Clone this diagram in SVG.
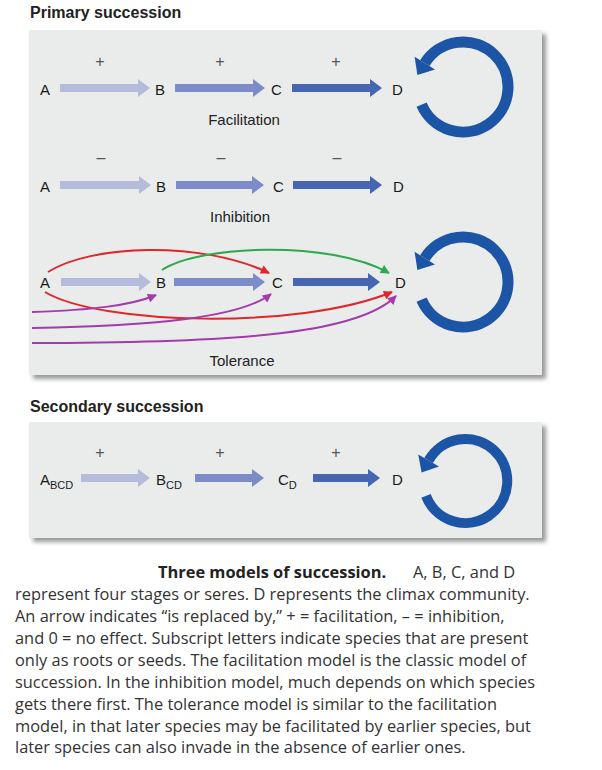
<svg xmlns="http://www.w3.org/2000/svg" width="602" height="770" viewBox="0 0 602 770">
<style>
.title{font-family:"Liberation Sans",Arial,sans-serif;font-weight:bold;font-size:16px;fill:#222}
.lbl{font-family:"Liberation Sans",Arial,sans-serif;font-size:15px;fill:#1a1a1a}
.sub{font-size:11px}
.sign{font-family:"Liberation Sans",Arial,sans-serif;font-size:16px;fill:#555;text-anchor:middle}
.model{font-family:"Liberation Sans",Arial,sans-serif;font-size:15px;fill:#222;text-anchor:middle}
.panel{fill:#e9eceb}
.shadow{fill:#9a9a9a;filter:url(#blur)}
.a1{fill:#b5bcdb;filter:url(#soft)}
.a2{fill:#7b8cc8;filter:url(#soft)}
.a3{fill:#4766b2;filter:url(#soft)}
.ring{fill:none;stroke:#1d55a6;stroke-width:11}
.ringhead{fill:#1d55a6}
.cr{fill:none;stroke:#e0262b;stroke-width:2;marker-end:url(#mr)}
.cg{fill:none;stroke:#2ea74d;stroke-width:2;marker-end:url(#mg)}
.cp{fill:none;stroke:#a43aac;stroke-width:2;marker-end:url(#mp)}
.cap{font-family:"Open Sans","Noto Sans",sans-serif;font-size:16.4px;fill:#333}
.capb{font-weight:bold;fill:#222}
</style>
<defs>
<filter id="blur" x="-5%" y="-5%" width="110%" height="110%"><feGaussianBlur stdDeviation="2"/></filter>
<filter id="soft" x="-5%" y="-50%" width="110%" height="200%"><feGaussianBlur stdDeviation="0.6"/></filter>
<marker id="mr" viewBox="0 0 10 10" refX="9" refY="5" markerWidth="11" markerHeight="9" markerUnits="userSpaceOnUse" orient="auto"><path d="M0,0 L10,5 L0,10 z" fill="#e0262b"/></marker>
<marker id="mg" viewBox="0 0 10 10" refX="9" refY="5" markerWidth="11" markerHeight="9" markerUnits="userSpaceOnUse" orient="auto"><path d="M0,0 L10,5 L0,10 z" fill="#2ea74d"/></marker>
<marker id="mp" viewBox="0 0 10 10" refX="9" refY="5" markerWidth="11" markerHeight="9" markerUnits="userSpaceOnUse" orient="auto"><path d="M0,0 L10,5 L0,10 z" fill="#a43aac"/></marker>
</defs>
<rect width="602" height="770" fill="#ffffff"/>

<g id="panels">
<rect class="shadow" x="33" y="34" width="513" height="345"/>
<rect class="panel" x="29" y="30" width="513" height="345"/>
<rect class="shadow" x="33" y="426" width="513" height="116"/>
<rect class="panel" x="29" y="422" width="513" height="116"/>
</g>

<g id="titles">
<text class="title" x="30" y="18">Primary succession</text>
<text class="title" x="30" y="412">Secondary succession</text>
</g>

<g id="signs">
<text class="sign" x="100" y="67">+</text>
<text class="sign" x="220" y="67">+</text>
<text class="sign" x="336" y="67">+</text>
<text class="sign" x="101" y="163">–</text>
<text class="sign" x="221" y="163">–</text>
<text class="sign" x="337" y="163">–</text>
<text class="sign" x="100" y="458">+</text>
<text class="sign" x="220" y="458">+</text>
<text class="sign" x="336" y="458">+</text>
</g>

<g id="model-labels">
<text class="model" x="244" y="125">Facilitation</text>
<text class="model" x="240" y="222">Inhibition</text>
<text class="model" x="242" y="366">Tolerance</text>
</g>

<g id="facilitation-nodes">
<g id="f-A"><text class="lbl" x="40" y="95">A</text></g>
<g id="f-B"><text class="lbl" x="155" y="95">B</text></g>
<g id="f-C"><text class="lbl" x="271" y="95">C</text></g>
<g id="f-D"><text class="lbl" x="392" y="95">D</text></g>
</g>
<g id="inhibition-nodes">
<g id="i-A"><text class="lbl" x="40" y="192">A</text></g>
<g id="i-B"><text class="lbl" x="156" y="192">B</text></g>
<g id="i-C"><text class="lbl" x="273" y="192">C</text></g>
<g id="i-D"><text class="lbl" x="393" y="192">D</text></g>
</g>
<g id="tolerance-nodes">
<g id="t-A"><text class="lbl" x="40" y="288">A</text></g>
<g id="t-B"><text class="lbl" x="156" y="288">B</text></g>
<g id="t-C"><text class="lbl" x="272" y="288">C</text></g>
<g id="t-D"><text class="lbl" x="395" y="288">D</text></g>
</g>
<g id="secondary-nodes">
<g id="s-A"><text class="lbl" x="40" y="485">A<tspan class="sub" dy="4">BCD</tspan></text></g>
<g id="s-B"><text class="lbl" x="156" y="485">B<tspan class="sub" dy="4">CD</tspan></text></g>
<g id="s-C"><text class="lbl" x="278" y="485">C<tspan class="sub" dy="4">D</tspan></text></g>
<g id="s-D"><text class="lbl" x="392" y="485">D</text></g>
</g>

<g id="connectors">
<!-- facilitation row -->
<path class="a1" d="M60,84 H138 V79 L150,88 L138,97 V92 H60 Z"/>
<path class="a2" d="M175,84 H253 V79 L265,88 L253,97 V92 H175 Z"/>
<path class="a3" d="M292,84 H370 V79 L382,88 L370,97 V92 H292 Z"/>
<!-- inhibition row -->
<path class="a1" d="M60,181 H139 V176 L151,185 L139,194 V189 H60 Z"/>
<path class="a2" d="M176,181 H252 V176 L264,185 L252,194 V189 H176 Z"/>
<path class="a3" d="M293,181 H370 V176 L382,185 L370,194 V189 H293 Z"/>
<!-- tolerance row -->
<path class="a1" d="M61,278 H139 V273 L151,282 L139,291 V286 H61 Z"/>
<path class="a2" d="M174,278 H253 V273 L265,282 L253,291 V286 H174 Z"/>
<path class="a3" d="M293,278 H368 V273 L380,282 L368,291 V286 H293 Z"/>
<path class="cr" d="M48,272 C90,245 200,240 269,273"/>
<path class="cg" d="M162,270 C200,245 330,240 389,273"/>
<path class="cr" d="M45,292 C100,325 300,330 392,292"/>
<path class="cp" d="M32,312 C90,310 130,306 156,295"/>
<path class="cp" d="M32,328 C150,326 240,318 271,294"/>
<path class="cp" d="M32,343 C250,343 360,332 396,296"/>
<!-- secondary row -->
<path class="a1" d="M81,474 H138 V469 L150,478 L138,487 V482 H81 Z"/>
<path class="a2" d="M195,474 H252 V469 L264,478 L252,487 V482 H195 Z"/>
<path class="a3" d="M313,474 H368 V469 L380,478 L368,487 V482 H313 Z"/>
</g>

<g id="climax-cycles">
<g id="cycle-facilitation">
<path class="ring" d="M421.6,104.6 A45,45 0 1 0 424.8,63.2"/>
<polygon class="ringhead" points="414.6,56.8 435,69.6 417.4,75.1"/>
</g>
<g id="cycle-tolerance">
<path class="ring" d="M421.6,299.6 A45,45 0 1 0 424.8,258.2"/>
<polygon class="ringhead" points="414.6,251.8 435,264.6 417.4,270.1"/>
</g>
<g id="cycle-secondary">
<path class="ring" style="stroke-width:10" d="M426,495.9 A42,42 0 1 0 428.6,460.5"/>
<polygon class="ringhead" points="418.2,454.5 439,466.5 421.6,472.6"/>
</g>
</g>

<g id="caption">
<text class="cap" y="578"><tspan class="capb" x="158">Three models of succession.</tspan><tspan x="413">A, B, C, and D</tspan></text>
<text class="cap" x="15" y="600">represent four stages or seres. D represents the climax community.</text>
<text class="cap" x="15" y="622">An arrow indicates “is replaced by,” + = facilitation, – = inhibition,</text>
<text class="cap" x="15" y="643.5">and 0 = no effect. Subscript letters indicate species that are present</text>
<text class="cap" x="15" y="665.5">only as roots or seeds. The facilitation model is the classic model of</text>
<text class="cap" x="15" y="687.5">succession. In the inhibition model, much depends on which species</text>
<text class="cap" x="15" y="709.5">gets there first. The tolerance model is similar to the facilitation</text>
<text class="cap" x="15" y="731.5">model, in that later species may be facilitated by earlier species, but</text>
<text class="cap" x="15" y="753">later species can also invade in the absence of earlier ones.</text>
</g>
</svg>
